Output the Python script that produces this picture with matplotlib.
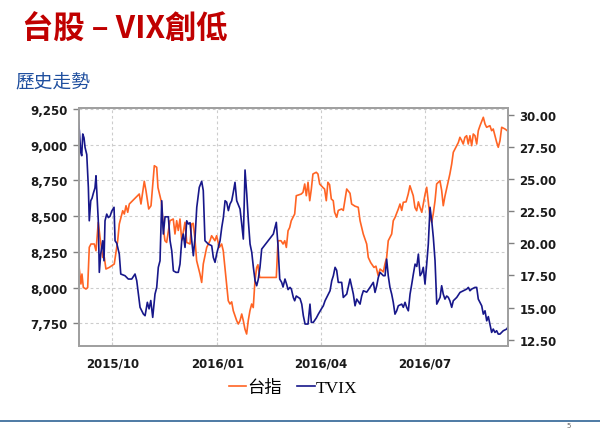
import numpy as np
import pandas as pd
import matplotlib
matplotlib.use("Agg")
import matplotlib.pyplot as plt
import matplotlib.dates as mdates
from matplotlib.ticker import FuncFormatter

CJK = ['Noto Sans CJK TC', 'DejaVu Sans']

# ---- data: days counted from 2015-09-01 ----
start = pd.Timestamp("2015-09-01")

tw_day = [0.5,2.5,3.4,4.6,6.9,8.4,9.8,11.3,14.2,15.7,
          17.7,19.2,21.6,23.0,24.4,27.3,31.7,34.7,36.1,37.6,
          39.1,40.5,42.0,43.5,44.9,47.8,50.7,53.6,55.1,58.0,
          59.5,61.9,63.9,66.8,68.9,70.0,73.0,74.7,76.1,77.6,
          80.5,83.4,84.9,86.4,87.8,89.3,90.8,93.7,95.2,98.1,
          99.5,100.9,102.4,103.9,106.8,108.3,109.7,112.7,115.6,117.0,
          119.9,121.4,123.7,125.8,127.2,128.7,130.2,131.6,133.1,134.6,
          136.0,137.5,139.0,140.4,141.9,143.4,144.8,146.2,147.7,149.1,
          150.6,152.1,153.5,155.0,156.5,157.6,159.1,173.7,175.2,177.8,
          179.6,181.1,182.5,184.0,185.4,186.8,189.8,191.2,195.6,197.1,
          198.6,200.0,201.5,203.0,204.4,205.8,208.7,210.2,211.7,214.6,
          216.0,217.5,218.9,220.4,221.9,223.6,224.8,226.6,228.0,230.9,
          232.4,235.4,238.3,239.7,242.6,245.5,247.1,249.9,252.9,254.3,
          256.4,259.3,261.0,263.0,264.6,267.5,268.9,270.4,271.8,274.8,
          276.2,277.7,280.6,282.1,283.6,285.0,287.4,289.3,290.8,293.7,
          295.2,296.7,298.2,299.7,301.2,304.1,305.5,306.9,308.4,309.9,
          311.3,312.8,314.2,317.1,318.6,320.0,321.5,322.9,325.8,327.4,
          328.8,331.8,333.2,334.6,336.1,337.5,339.0,340.5,341.9,343.4,
          344.9,346.3,347.8,349.3,350.7,352.2,355.1,356.6,358.0,360.9,
          362.4,363.8,366.8,368.2,369.7,371.2,374.1,376.1]
tw_val = [8170,8025,8095,8001,7990,8000,8282,8305,8305,8258,
          8457,8352,8211,8211,8130,8141,8165,8328,8445,8492,
          8538,8515,8573,8527,8585,8608,8632,8655,8585,8744,
          8678,8550,8573,8853,8842,8700,8600,8422,8328,8316,
          8468,8480,8375,8468,8400,8480,8328,8457,8316,8305,
          8445,8450,8340,8188,8095,8036,8165,8281,8328,8363,
          8328,8363,8281,8305,8258,8141,8025,7908,7885,7900,
          7838,7803,7768,7745,7768,7815,7768,7710,7675,7768,
          7838,7885,7860,8048,8141,8160,8071,8071,8328,8328,
          8305,8328,8281,8398,8420,8468,8515,8643,8655,8667,
          8725,8643,8737,8608,8690,8795,8807,8795,8725,8700,
          8690,8608,8737,8720,8620,8608,8527,8492,8540,8550,
          8540,8690,8660,8585,8570,8562,8468,8375,8305,8211,
          8175,8141,8150,8083,8130,8110,8165,8211,8328,8375,
          8468,8490,8550,8585,8540,8597,8600,8655,8713,8643,
          8560,8538,8600,8560,8527,8655,8702,8600,8492,8457,
          8520,8608,8725,8748,8680,8573,8640,8690,8795,8865,
          8947,8993,9015,9052,9030,9005,9052,9063,9005,9063,
          8993,9075,9063,9005,9098,9133,9192,9145,9122,9133,
          9098,9110,9017,8982,9028,9122,9110,9098]

vx_day = [0.0,1.1,2.3,3.2,4.1,5.2,6.1,7.6,9.0,9.8,
          11.1,12.2,13.4,14.8,15.7,16.9,17.7,18.6,19.8,21.6,
          22.7,23.6,25.1,26.5,28.0,29.5,31.5,32.4,33.9,36.1,
          37.4,41.1,44.0,47.0,49.9,51.4,54.3,57.2,58.7,60.7,
          62.2,63.7,65.4,67.4,68.9,70.3,71.8,73.3,74.7,76.2,
          79.1,80.6,82.1,83.5,85.8,87.8,89.3,90.8,92.2,93.7,
          95.2,96.6,98.1,99.6,101.0,102.5,104.0,106.2,108.3,109.7,
          111.2,114.1,117.1,118.5,120.0,121.5,124.4,125.9,127.3,128.8,
          130.2,131.7,133.1,134.6,136.0,137.5,139.0,141.9,143.4,144.8,
          146.3,147.8,149.2,150.7,152.2,153.6,155.1,156.5,157.9,159.4,
          160.9,171.1,173.7,175.2,176.7,178.4,179.6,181.3,182.8,184.0,
          185.7,186.9,188.6,189.8,191.2,193.0,194.5,196.0,197.4,198.9,
          201.5,203.2,204.4,206.1,208.8,210.5,213.2,214.9,216.4,217.9,
          220.8,222.3,223.7,225.2,226.6,228.0,231.0,232.4,235.4,238.3,
          239.8,241.2,242.7,244.2,247.1,248.5,250.0,252.9,255.8,258.7,
          260.2,261.7,263.1,264.6,267.5,269.0,270.4,271.8,273.3,274.8,
          276.2,277.7,279.2,280.6,283.6,285.0,286.5,288.0,289.4,290.9,
          292.4,293.8,295.3,296.8,298.2,299.7,301.2,302.5,304.0,305.5,
          306.9,308.4,309.9,311.3,312.8,314.3,315.7,317.2,318.6,320.0,
          321.5,323.0,324.4,325.8,327.4,328.8,331.8,334.7,337.6,340.6,
          342.0,343.4,344.9,347.8,349.3,350.7,353.7,355.1,356.6,358.1,
          359.5,360.9,362.4,363.8,365.3,366.8,368.2,369.7,372.6,375.6,
          376.8]
vx_val = [29.80,28.76,27.07,26.81,28.50,28.2,27.46,26.9,24.35,21.75,
          23.31,23.5,23.9,24.3,25.25,23.05,21.75,17.74,19.16,20.20,
          18.64,21.75,22.27,22.0,22.1,22.5,22.80,20.20,20.0,19.16,
          17.61,17.48,17.22,17.22,17.61,17.09,15.02,14.50,14.37,15.41,
          14.9,15.55,14.24,16.05,16.57,18.13,18.64,23.31,20.72,22.06,
          22.06,20.20,19.4,17.86,17.74,17.74,18.38,20.20,20.72,19.68,
          21.75,21.5,21.6,20.20,19.03,20.46,22.80,24.35,24.82,24.1,
          20.20,19.94,19.81,18.90,18.52,19.2,20.20,21.24,22.0,23.31,
          23.2,22.54,23.05,23.3,23.96,24.74,23.31,22.67,21.5,20.33,
          25.70,23.83,21.75,19.94,19.29,18.13,17.09,16.70,17.2,18.13,
          19.55,20.72,21.63,19.81,17.22,16.96,16.6,17.22,16.8,16.4,
          16.57,16.44,15.79,15.53,15.9,15.79,15.7,15.27,14.36,13.72,
          13.72,15.27,13.85,13.85,14.2,14.49,14.9,15.14,15.53,15.79,
          16.31,17.09,17.48,18.13,17.9,16.96,16.96,15.79,16.05,17.22,
          16.6,16.05,15.14,15.66,15.27,15.9,16.31,16.2,16.57,16.96,
          16.18,16.7,17.35,17.74,17.48,17.48,18.77,17.48,16.57,16.05,
          15.41,14.49,14.75,15.14,15.27,15.02,15.41,15.0,14.75,16.05,
          16.83,17.61,18.38,18.2,19.16,17.48,17.7,18.13,16.83,18.38,
          19.94,22.80,21.75,20.46,18.64,15.27,15.53,15.79,16.70,16.05,
          15.66,15.9,15.8,15.53,15.02,15.53,15.79,16.18,16.31,16.44,
          16.57,16.31,16.44,16.57,16.57,15.66,15.14,14.49,14.75,13.97,
          14.3,13.72,13.07,13.33,13.07,13.2,12.94,12.94,13.2,13.33,
          13.5]

left_ticks = [7750, 8000, 8250, 8500, 8750, 9000, 9250]
right_ticks = [12.5, 15.0, 17.5, 20.0, 22.5, 25.0, 27.5, 30.0]
date_ticks = ["2015-10-01", "2016-01-01", "2016-04-01", "2016-07-01"]

tw_dates = start + pd.to_timedelta(tw_day, unit="D")
vx_dates = start + pd.to_timedelta(vx_day, unit="D")

ORANGE = '#FF6424'
NAVY = '#17178A'

fig = plt.figure(figsize=(6, 4.35), dpi=100)
ax = fig.add_axes([79/600, 1-347.3/435, (508.3-79)/600, (347.3-109)/435])
ax2 = ax.twinx()

l1, = ax.plot(tw_dates, tw_val, color=ORANGE, lw=1.2, label='台指')
l2, = ax2.plot(vx_dates, vx_val, color=NAVY, lw=1.2, label='TVIX')

ax.set_xlim(start + pd.Timedelta(days=0.8), start + pd.Timedelta(days=377))
ax.set_ylim(7589, 9257)
ax2.set_ylim(11.99, 30.52)

ax.set_yticks(left_ticks)
ax.yaxis.set_major_formatter(FuncFormatter(lambda v, p: f"{v:,.0f}"))
ax2.set_yticks(right_ticks)
ax2.yaxis.set_major_formatter(FuncFormatter(lambda v, p: f"{v:.2f}"))
ax.set_xticks(pd.to_datetime(date_ticks))
ax.xaxis.set_major_formatter(mdates.DateFormatter("%Y/%m"))

ax.grid(True, color='#cccccc', ls=(0, (2.5, 2.5)), lw=0.8)
ax.set_axisbelow(True)

for a in (ax, ax2):
    for s in a.spines.values():
        s.set_color('#a0a0a0')
        s.set_linewidth(1.3)
ax.tick_params(axis='y', length=4, width=1, color='#808080', pad=4,
               labelsize=8.5, labelcolor='#1a1a1a')
ax2.tick_params(axis='y', length=4, width=1, color='#808080', pad=4,
                labelsize=8.5, labelcolor='#1a1a1a')
ax.tick_params(axis='x', direction='in', length=3, color='#cccccc', pad=7,
               labelsize=8.5, labelcolor='#1a1a1a')
for lab in ax.get_yticklabels() + ax2.get_yticklabels() + ax.get_xticklabels():
    lab.set_fontweight('bold')

# titles
fig.text(22/600, 1-30/435, '台股 – VIX創低', color='#C00000', fontsize=22.5,
         fontweight='bold', family=CJK, va='center', ha='left')
fig.text(15/600, 1-83/435, '歷史走勢', color='#1F4F9F', fontsize=13.5,
         family=CJK, va='center', ha='left')

fig.legend([l1, l2], ['台指', 'TVIX'], loc='center',
           bbox_to_anchor=(293/600, 1-389/435), ncol=2, frameon=False,
           handlelength=1.0, handletextpad=0.05, columnspacing=0.9,
           prop={'family': ['Liberation Serif', 'Noto Sans CJK TC'], 'size': 12.5})

# bottom rule and page number
fig.add_artist(plt.Line2D([0, 1], [1-421.5/435]*2, color='#2F6495', lw=1.2))
fig.text(569/600, 1-426/435, '5', fontsize=5, color='#666666', ha='center', va='center')

fig.savefig('out.png', dpi=100)
